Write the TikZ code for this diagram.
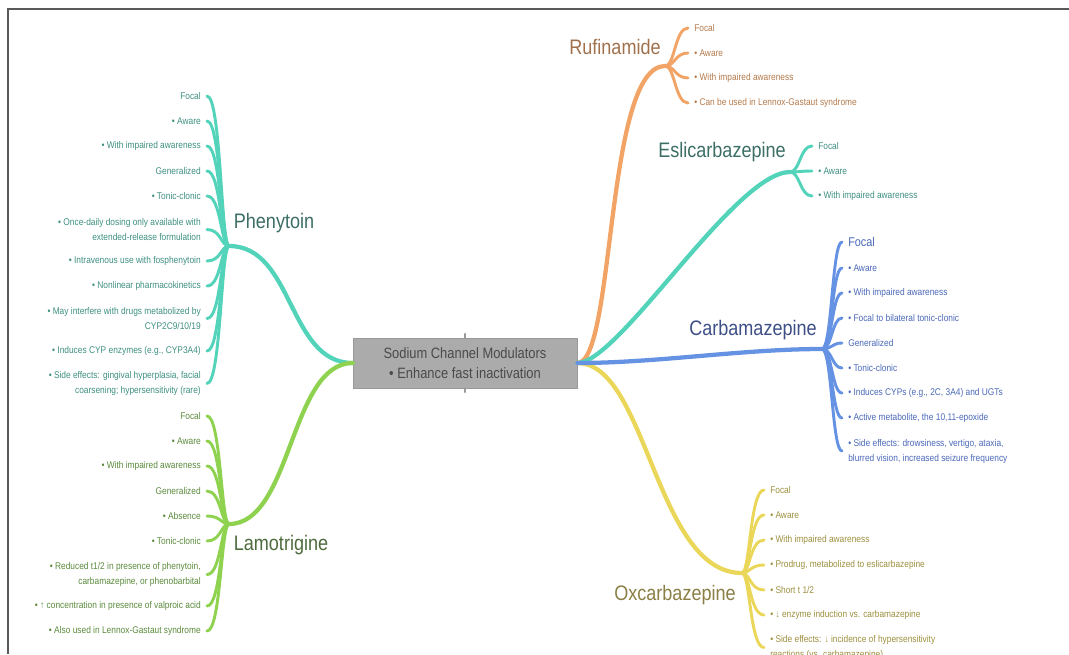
\documentclass[tikz,border=0pt]{standalone}
\usepackage{fontspec}
\setmainfont{Liberation Sans}[FakeStretch=0.86]
\usetikzlibrary{calc}

\definecolor{phcol}{HTML}{52D3BA}
\definecolor{phtxt}{HTML}{3E8F80}
\definecolor{phlab}{HTML}{3C6E66}
\definecolor{lacol}{HTML}{8ED250}
\definecolor{latxt}{HTML}{5B8A3C}
\definecolor{lalab}{HTML}{4D6B3D}
\definecolor{rucol}{HTML}{F2A466}
\definecolor{rutxt}{HTML}{B47A4C}
\definecolor{rulab}{HTML}{A0714D}
\definecolor{cbcol}{HTML}{6592E3}
\definecolor{cbtxt}{HTML}{4A68B8}
\definecolor{cblab}{HTML}{3D4F86}
\definecolor{oxcol}{HTML}{EAD75A}
\definecolor{oxtxt}{HTML}{9C8F3E}
\definecolor{oxlab}{HTML}{8A7F45}
\definecolor{boxgray}{HTML}{ABABAB}
\definecolor{boxedge}{HTML}{999999}
\definecolor{boxtext}{HTML}{4A4A4A}

\begin{document}
\begin{tikzpicture}[x=0.75pt,y=-0.75pt,line cap=round,
  core/.style={fill=boxgray,draw=boxedge,minimum width=168pt,minimum height=37.5pt,inner sep=0pt,align=center,text=boxtext,font=\fontsize{11.25}{15}\selectfont},
  leaf node/.style={font=\fontsize{7.3}{11.25}\selectfont,inner xsep=4.5pt,inner ysep=1pt},
  left leaf/.style={leaf node,anchor=east,align=right},
  right leaf/.style={leaf node,anchor=west,align=left},
  ph leaf/.style={left leaf,text=phtxt},
  la leaf/.style={left leaf,text=latxt},
  ru leaf/.style={right leaf,text=rutxt},
  es leaf/.style={right leaf,text=phtxt},
  cb leaf/.style={right leaf,text=cbtxt},
  ox leaf/.style={right leaf,text=oxtxt},
  drug node/.style={font=\fontsize{15.75}{18}\selectfont,inner sep=0pt},
  main branch/.style={line width=3.2pt},
  twig/.style={line width=2.2pt,to path={.. controls ($(\tikztostart)+(#1,0)$) and ($(\tikztostart |- \tikztotarget)+(#1,0)$) .. (\tikztotarget)}}]

  \useasboundingbox (0,0) rectangle (1069,654);
  \clip (0,0) rectangle (1069,654);
  \draw[black!65,line width=1.5pt,line cap=butt] (8,654) -- (8,9) -- (1069,9);

  % hubs
  \coordinate (phh) at (229,246);
  \coordinate (lah) at (229,524);
  \coordinate (ruh) at (665,66);
  \coordinate (esh) at (790,172);
  \coordinate (cbh) at (822,349);
  \coordinate (oxh) at (742,573);

  \node[core] (box) at (465,363) {Sodium Channel Modulators\\• Enhance fast inactivation};
  \draw[boxedge,line width=1pt] (box.north) -- ++(0,-4) (box.south) -- ++(0,4);

  % main branches
  \draw[main branch,phcol] (box.west) .. controls +(-65,0) and +(65,0) .. (phh);
  \draw[main branch,lacol] (box.west) .. controls +(-63,0) and +(63,0) .. (lah);
  \draw[main branch,rucol] (box.east) .. controls +(38,0) and +(-60,0) .. (ruh);
  \draw[main branch,phcol] (box.east) .. controls +(42,0) and +(-55,0) .. (esh);
  \draw[main branch,oxcol] (box.east) .. controls +(70,0) and +(-87,0) .. (oxh);
  \draw[main branch,cbcol] (box.east) .. controls +(80,0) and +(-80,0) .. (cbh);

  % drug names
  \node[drug node,text=phlab] (phn) at (274,223) {Phenytoin};
  \node[drug node,text=lalab] (lan) at (281,545) {Lamotrigine};
  \node[drug node,text=rulab] (run) at (615,47) {Rufinamide};
  \node[drug node,text=phlab] (esn) at (722,152) {Eslicarbazepine};
  \node[drug node,text=cblab] (cbn) at (753,330) {Carbamazepine};
  \node[drug node,text=oxlab] (oxn) at (675,595) {Oxcarbazepine};

  % Phenytoin
  \node[ph leaf] (ph1) at (207,96) {Focal};
  \node[ph leaf] (ph2) at (207,121) {• Aware};
  \node[ph leaf] (ph3) at (207,146) {• With impaired awareness};
  \node[ph leaf] (ph4) at (207,171) {Generalized};
  \node[ph leaf] (ph5) at (207,196) {• Tonic-clonic};
  \node[ph leaf] (ph6) at (207,229.5) {• Once-daily dosing only available with\\extended-release formulation};
  \node[ph leaf] (ph7) at (207,261) {• Intravenous use with fosphenytoin};
  \node[ph leaf] (ph8) at (207,286) {• Nonlinear pharmacokinetics};
  \node[ph leaf] (ph9) at (207,318.5) {• May interfere with drugs metabolized by\\CYP2C9/10/19};
  \node[ph leaf] (ph10) at (207,351) {• Induces CYP enzymes (e.g., CYP3A4)};
  \node[ph leaf] (ph11) at (207,383.5) {• Side effects: gingival hyperplasia, facial\\coarsening; hypersensitivity (rare)};
  \path[phcol]
    (phh) edge[twig=-8] (ph1.east)
    (phh) edge[twig=-8] (ph2.east)
    (phh) edge[twig=-8] (ph3.east)
    (phh) edge[twig=-8] (ph4.east)
    (phh) edge[twig=-8] (ph5.east)
    (phh) edge[twig=-8] (ph6.east)
    (phh) edge[twig=-8] (ph7.east)
    (phh) edge[twig=-8] (ph8.east)
    (phh) edge[twig=-8] (ph9.east)
    (phh) edge[twig=-8] (ph10.east)
    (phh) edge[twig=-8] (ph11.east);

  % Lamotrigine
  \node[la leaf] (la1) at (207,416) {Focal};
  \node[la leaf] (la2) at (207,441) {• Aware};
  \node[la leaf] (la3) at (207,466) {• With impaired awareness};
  \node[la leaf] (la4) at (207,491) {Generalized};
  \node[la leaf] (la5) at (207,516) {• Absence};
  \node[la leaf] (la6) at (207,541) {• Tonic-clonic};
  \node[la leaf] (la7) at (207,574.5) {• Reduced t1/2 in presence of phenytoin,\\carbamazepine, or phenobarbital};
  \node[la leaf] (la8) at (207,606) {• ↑ concentration in presence of valproic acid};
  \node[la leaf] (la9) at (207,631) {• Also used in Lennox-Gastaut syndrome};
  \path[lacol]
    (lah) edge[twig=-8] (la1.east)
    (lah) edge[twig=-8] (la2.east)
    (lah) edge[twig=-8] (la3.east)
    (lah) edge[twig=-8] (la4.east)
    (lah) edge[twig=-8] (la5.east)
    (lah) edge[twig=-8] (la6.east)
    (lah) edge[twig=-8] (la7.east)
    (lah) edge[twig=-8] (la8.east)
    (lah) edge[twig=-8] (la9.east);

  % Rufinamide
  \node[ru leaf] (ru1) at (688,28) {Focal};
  \node[ru leaf] (ru2) at (688,53) {• Aware};
  \node[ru leaf] (ru3) at (688,78) {• With impaired awareness};
  \node[ru leaf] (ru4) at (688,103) {• Can be used in Lennox-Gastaut syndrome};
  \path[rucol]
    (ruh) edge[twig=10] (ru1.west)
    (ruh) edge[twig=10] (ru2.west)
    (ruh) edge[twig=10] (ru3.west)
    (ruh) edge[twig=10] (ru4.west);

  % Eslicarbazepine
  \node[es leaf] (es1) at (812,146) {Focal};
  \node[es leaf] (es2) at (812,171) {• Aware};
  \node[es leaf] (es3) at (812,196) {• With impaired awareness};
  \path[phcol]
    (esh) edge[twig=10] (es1.west)
    (esh) edge[twig=10] (es2.west)
    (esh) edge[twig=10] (es3.west);

  % Carbamazepine
  \node[cb leaf,font=\fontsize{9.5}{11.25}\selectfont] (cb1) at (842,242) {Focal};
  \node[cb leaf] (cb2) at (842,268) {• Aware};
  \node[cb leaf] (cb3) at (842,293) {• With impaired awareness};
  \node[cb leaf] (cb4) at (842,318) {• Focal to bilateral tonic-clonic};
  \node[cb leaf] (cb5) at (842,343) {Generalized};
  \node[cb leaf] (cb6) at (842,368) {• Tonic-clonic};
  \node[cb leaf] (cb7) at (842,393) {• Induces CYPs (e.g., 2C, 3A4) and UGTs};
  \node[cb leaf] (cb8) at (842,418) {• Active metabolite, the 10,11-epoxide};
  \node[cb leaf] (cb9) at (842,451) {• Side effects: drowsiness, vertigo, ataxia,\\blurred vision, increased seizure frequency};
  \path[cbcol]
    (cbh) edge[twig=10] (cb1.west)
    (cbh) edge[twig=10] (cb2.west)
    (cbh) edge[twig=10] (cb3.west)
    (cbh) edge[twig=10] (cb4.west)
    (cbh) edge[twig=10] (cb5.west)
    (cbh) edge[twig=10] (cb6.west)
    (cbh) edge[twig=10] (cb7.west)
    (cbh) edge[twig=10] (cb8.west)
    (cbh) edge[twig=10] (cb9.west);

  % Oxcarbazepine
  \node[ox leaf] (ox1) at (764,490) {Focal};
  \node[ox leaf] (ox2) at (764,515) {• Aware};
  \node[ox leaf] (ox3) at (764,540) {• With impaired awareness};
  \node[ox leaf] (ox4) at (764,565) {• Prodrug, metabolized to eslicarbazepine};
  \node[ox leaf] (ox5) at (764,590) {• Short t 1/2};
  \node[ox leaf] (ox6) at (764,615) {• ↓ enzyme induction vs. carbamazepine};
  \node[ox leaf] (ox7) at (764,647.5) {• Side effects: ↓ incidence of hypersensitivity\\reactions (vs. carbamazepine)};
  \path[oxcol]
    (oxh) edge[twig=8] (ox1.west)
    (oxh) edge[twig=8] (ox2.west)
    (oxh) edge[twig=8] (ox3.west)
    (oxh) edge[twig=8] (ox4.west)
    (oxh) edge[twig=8] (ox5.west)
    (oxh) edge[twig=8] (ox6.west)
    (oxh) edge[twig=8] (ox7.west);
\end{tikzpicture}
\end{document}
